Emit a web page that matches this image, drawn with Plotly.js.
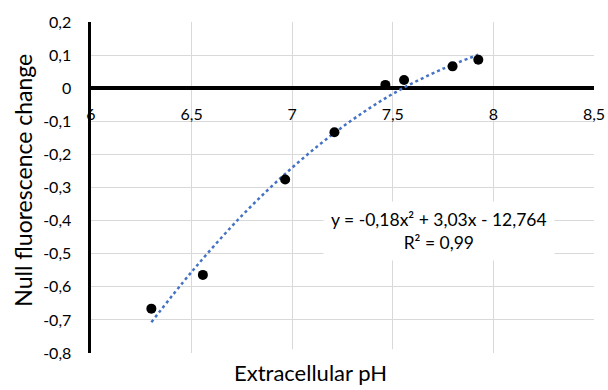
<!DOCTYPE html>
<html><head><meta charset="utf-8">
<script src="https://cdn.plot.ly/plotly-3.0.1.min.js"></script>
<style>body{margin:0;background:#fff}#c{width:608px;height:390px}</style>
</head><body><div id="c"></div>
<script>
// Measured data points
var phValues = [6.30, 6.556, 6.965, 7.21, 7.463, 7.556, 7.797, 7.925];
var fluorChange = [-0.666, -0.564, -0.276, -0.133, 0.010, 0.025, 0.066, 0.086];
// Trendline
var trendX = [6.30, 6.50, 6.75, 7.00, 7.25, 7.50, 7.75, 7.925];
var trendY = [-0.707, -0.555, -0.385, -0.240, -0.117, -0.017, 0.059, 0.101];
// Ticks
var xTickVals = [6, 6.5, 7, 7.5, 8, 8.5];
var xTickText = ['6', '6,5', '7', '7,5', '8', '8,5'];
var yTickVals = [0.2, 0.1, 0, -0.1, -0.2, -0.3, -0.4, -0.5, -0.6, -0.7, -0.8];
var yTickText = ['0,2', '0,1', '0', '-0,1', '-0,2', '-0,3', '-0,4', '-0,5', '-0,6', '-0,7', '-0,8'];
var eqText = 'y = -0,18x² + 3,03x - 12,764<br>R² = 0,99';
var xTitle = 'Extracellular pH';
var yTitle = 'Null fluorescence change';

var FONT = 'Lato, "Open Sans", sans-serif';
var traces = [
  {x: trendX, y: trendY, mode: 'lines', type: 'scatter',
   line: {color: '#4472C4', width: 2.5, dash: 'dot', shape: 'spline'}, hoverinfo: 'skip'},
  {x: phValues, y: fluorChange, mode: 'markers', type: 'scatter',
   marker: {color: '#000000', size: 10}}
];
var layout = {
  width: 608, height: 390,
  margin: {l: 91, r: 14, t: 22, b: 37},
  paper_bgcolor: '#ffffff', plot_bgcolor: '#ffffff',
  showlegend: false,
  font: {family: FONT, color: '#000000', size: 16},
  xaxis: {range: [6, 8.5], tickvals: xTickVals, ticktext: xTickText,
    showgrid: true, gridcolor: '#d9d9d9', gridwidth: 1, zeroline: false,
    showline: false, ticks: '', anchor: 'free', position: 0.8,
    ticklabelstandoff: 15, tickfont: {family: FONT, size: 16}},
  yaxis: {range: [-0.8, 0.2], tickvals: yTickVals, ticktext: yTickText,
    showgrid: true, gridcolor: '#d9d9d9', gridwidth: 1,
    zeroline: true, zerolinecolor: '#000000', zerolinewidth: 3.5,
    showline: true, linecolor: '#000000', linewidth: 3.5, ticks: '',
    ticklabelstandoff: 13, tickfont: {family: FONT, size: 16}},
  shapes: [
    {type: 'rect', xref: 'paper', yref: 'paper', x0: 0.245, x1: 0.63, y0: -0.2, y1: 0.011,
     fillcolor: '#ffffff', line: {width: 0}, layer: 'above'}
  ],
  annotations: [
    {xref: 'paper', yref: 'paper', x: 0.437, y: -0.060, yanchor: 'middle', text: xTitle,
     showarrow: false, font: {family: FONT, size: 22}},
    {xref: 'paper', yref: 'paper', x: -0.137, y: 0.521, xanchor: 'center', yanchor: 'middle',
     textangle: -90, text: yTitle, showarrow: false, font: {family: FONT, size: 23}},
    {xref: 'x', yref: 'y', x: 7.732, y: -0.430, text: eqText, showarrow: false,
     bgcolor: '#ffffff', borderpad: 7, align: 'center', font: {family: FONT, size: 17.5}}
  ]
};
Plotly.newPlot('c', traces, layout, {displayModeBar: false, staticPlot: true});
</script></body></html>
